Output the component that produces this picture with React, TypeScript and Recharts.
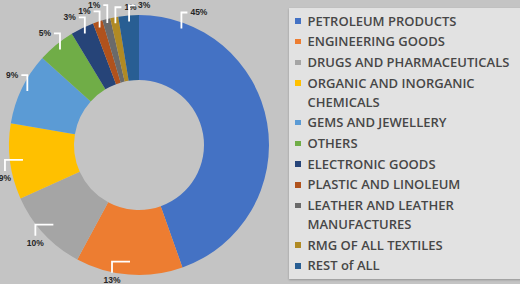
import React from "react";
import { PieChart, Pie, Cell, Legend } from "recharts";

// export share by commodity (%)
const categories = [
  "PETROLEUM PRODUCTS",
  "ENGINEERING GOODS",
  "DRUGS AND PHARMACEUTICALS",
  "ORGANIC AND INORGANIC CHEMICALS",
  "GEMS AND JEWELLERY",
  "OTHERS",
  "ELECTRONIC GOODS",
  "PLASTIC AND LINOLEUM",
  "LEATHER AND LEATHER MANUFACTURES",
  "RMG OF ALL TEXTILES",
  "REST of ALL",
];
const shares = [44.6, 13.3, 10.4, 9.4, 9.0, 4.7, 2.9, 1.2, 1.0, 1.0, 2.55];
const colors = [
  "#4472c4",
  "#ed7d31",
  "#a5a5a5",
  "#ffc000",
  "#5b9bd5",
  "#70ad47",
  "#264478",
  "#b0521c",
  "#6a6a6a",
  "#b08a24",
  "#285e93",
];

const data = categories.map((name, i) => ({ name, value: shares[i] }));
const total = shares.reduce((a, b) => a + b, 0);

const RAD = Math.PI / 180;

const small = (i: number) => shares[i] / total < 0.02;
// tiny neighbouring slices: every other one gets a taller callout
const isLifted = (i: number): boolean =>
  i > 0 && small(i) && small(i - 1) && !isLifted(i - 1);

const renderLabel = (p: any) => {
  const { cx, cy, outerRadius, startAngle, endAngle, midAngle, percent, index } = p;
  const sweep = Math.abs(endAngle - startAngle);
  const ang = sweep > 90 ? startAngle - 20 : midAngle;
  const upper = Math.sin(ang * RAD) > 0;
  const lift = isLifted(index);
  const r = upper ? outerRadius - (lift ? 4 : 6) : outerRadius - 13;
  const sx = cx + r * Math.cos(ang * RAD);
  const sy = cy - r * Math.sin(ang * RAD);
  const label = `${Math.round(percent * 100)}%`;
  const txt = {
    fontFamily: "Liberation Sans, Arial, sans-serif",
    fontWeight: 700,
    fontSize: 8.5,
    fill: "#262626",
  };
  if (upper) {
    const ey = sy - (lift ? 18 : 16);
    const dir = Math.cos(ang * RAD) < -0.25 ? -1 : 1;
    const hx = sx + dir * (lift ? 4 : 6);
    return (
      <g>
        <polyline
          points={`${sx},${sy} ${sx},${ey} ${hx},${ey}`}
          stroke="#ffffff"
          strokeWidth={1.8}
          fill="none"
        />
        <text
          x={hx + dir * 3}
          y={ey}
          textAnchor={dir < 0 ? "end" : "start"}
          dominantBaseline="central"
          style={txt}
        >
          {label}
        </text>
      </g>
    );
  }
  const ex = sx - 18;
  return (
    <g>
      <polyline
        points={`${sx},${sy} ${ex},${sy} ${ex},${sy + 11}`}
        stroke="#ffffff"
        strokeWidth={1.8}
        fill="none"
      />
      <text x={ex} y={sy + 18} textAnchor="middle" dominantBaseline="central" style={txt}>
        {label}
      </text>
    </g>
  );
};

const renderLegend = () => (
  <div
    style={{
      background: "#e2e2e2",
      boxShadow: "0 1px 2px rgba(0,0,0,0.25)",
      padding: "3.5px 0 0 6px",
      height: 267,
      boxSizing: "content-box",
      fontFamily: "'Open Sans', sans-serif",
      fontWeight: 600,
      fontSize: 13,
      color: "#474747",
    }}
  >
    {categories.map((c, i) => (
      <div key={c} style={{ display: "flex", alignItems: "flex-start", marginBottom: 1.7 }}>
        <span
          style={{
            width: 5.5,
            height: 5.5,
            marginTop: 6.7,
            marginRight: 7,
            background: colors[i],
            flex: "none",
          }}
        />
        <span style={{ lineHeight: "19px", width: 215 }}>{c}</span>
      </div>
    ))}
  </div>
);

export default function App() {
  return (
    <div
      style={{
        position: "absolute",
        left: 0,
        top: 0,
        width: 520,
        height: 284,
        background: "#c4c4c4",
        overflow: "hidden",
      }}
    >
      <PieChart width={520} height={284} margin={{ top: 0, right: 0, bottom: 0, left: 0 }}>
        <Pie
          data={data}
          dataKey="value"
          nameKey="name"
          cx={139}
          cy={145}
          innerRadius={65}
          outerRadius={130}
          startAngle={90}
          endAngle={-270}
          stroke="none"
          label={renderLabel}
          labelLine={false}
          isAnimationActive={false}
        >
          {data.map((d, i) => (
            <Cell key={d.name} fill={colors[i]} />
          ))}
        </Pie>
        <Legend
          content={renderLegend}
          wrapperStyle={{ left: 289, top: 8, width: 245 }}
        />
      </PieChart>
    </div>
  );
}
